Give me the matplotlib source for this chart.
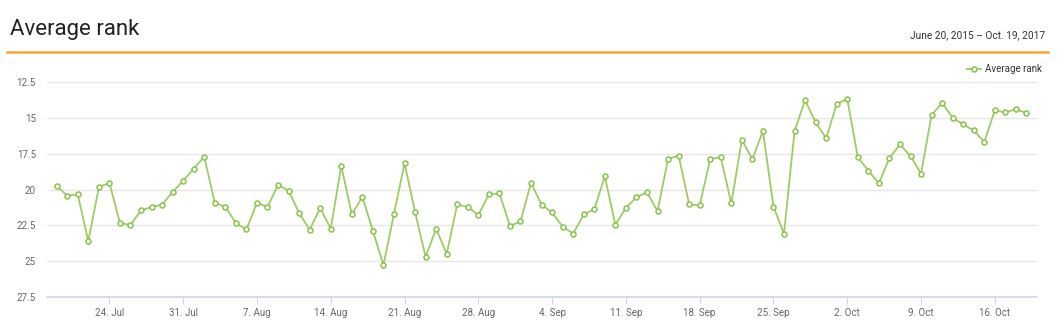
import matplotlib
matplotlib.use('Agg')
import matplotlib.pyplot as plt
import pandas as pd

plt.rcParams['font.family'] = ['Roboto', 'DejaVu Sans']

# daily average rank, 19 Jul - 19 Oct
dates = pd.date_range('2017-07-19', '2017-10-19', freq='D')
avg_rank = [
    19.75, 20.43, 20.34, 23.60, 19.85, 19.52, 22.32, 22.48, 21.46, 21.22,
    21.06, 20.17, 19.40, 18.54, 17.72, 20.92, 21.22, 22.34, 22.79, 20.92,
    21.22, 19.68, 20.08, 21.64, 22.81, 21.29, 22.74, 18.35, 21.74, 20.52,
    22.88, 25.28, 21.71, 18.17, 21.57, 24.70, 22.74, 24.49, 21.04, 21.22,
    21.78, 20.34, 20.27, 22.53, 22.23, 19.54, 21.06, 21.60, 22.60, 23.07,
    21.74, 21.39, 19.08, 22.46, 21.27, 20.55, 20.20, 21.50, 17.87, 17.63,
    21.04, 21.11, 17.87, 17.75, 20.97, 16.54, 17.89, 15.91, 21.20, 23.07,
    15.93, 13.76, 15.32, 16.42, 14.04, 13.67, 17.75, 18.68, 19.57, 17.80,
    16.86, 17.66, 18.91, 14.79, 13.97, 15.00, 15.46, 15.88, 16.68, 14.48,
    14.62, 14.39, 14.67,
]
y_ticks = [12.5, 15, 17.5, 20, 22.5, 25, 27.5]
y_tick_labels = ['12.5', '15', '17.5', '20', '22.5', '25', '27.5']
x_ticks = pd.date_range('2017-07-24', '2017-10-16', freq='7D')
title = 'Average rank'
date_range_text = 'June 20, 2015 \u2013 Oct. 19, 2017'

fig = plt.figure(figsize=(10.62, 3.31), dpi=100)
ax = fig.add_axes([47 / 1062, 34 / 331, 990 / 1062, 215 / 331])

ax.plot(dates, avg_rank, color='#9ccc65', lw=1.3, marker='o', ms=3.6,
        mfc='white', mec='#8bc34a', mew=1.1, label='Average rank', zorder=3)

ax.set_ylim(27.5, 12.5)
ax.set_yticks(y_ticks)
ax.set_yticklabels(y_tick_labels)
ax.set_xlim(pd.Timestamp('2017-07-18 02:00'), pd.Timestamp('2017-10-20 00:00'))
ax.set_xticks(x_ticks)
ax.set_xticklabels([f"{d.day}. {d.strftime('%b')}" for d in x_ticks])

ax.grid(axis='y', color='#e6e6e6', lw=1)
ax.set_axisbelow(True)
for s in ['top', 'right', 'left']:
    ax.spines[s].set_visible(False)
ax.spines['bottom'].set_color('#ccd6eb')
ax.spines['bottom'].set_linewidth(1.2)
ax.tick_params(axis='y', length=0, pad=8, labelsize=7, labelcolor='#666666')
ax.tick_params(axis='x', length=5, color='#ccd6eb', pad=3, labelsize=7,
               labelcolor='#666666')

leg = ax.legend(loc='lower right', bbox_to_anchor=(1.013, 1.0), frameon=False,
                fontsize=7, handlelength=1.5, handletextpad=0.4,
                borderaxespad=0.6, borderpad=0.2)
for t in leg.get_texts():
    t.set_color('#333333')

fig.text(10 / 1062, 1 - 30 / 331, title, fontsize=16, color='#222222',
         va='center', ha='left')
fig.text(1045 / 1062, 1 - 35 / 331, date_range_text, fontsize=7.3,
         color='#333333', va='center', ha='right')
fig.add_artist(plt.Line2D([7 / 1062, 1048 / 1062], [1 - 51.5 / 331] * 2,
                          color='#f7a630', lw=1.8))

fig.savefig('out.png', dpi=100)
